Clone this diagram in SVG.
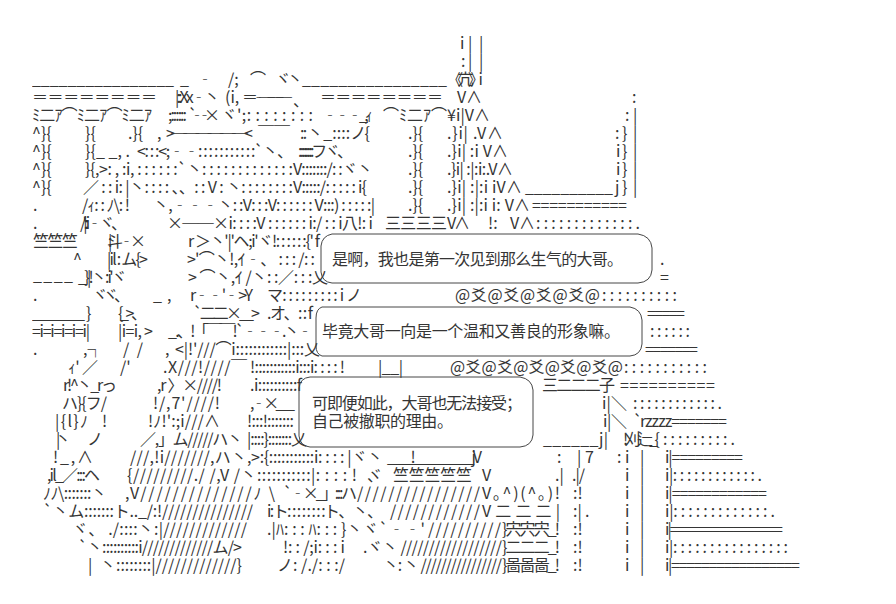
<svg xmlns="http://www.w3.org/2000/svg" width="896" height="604" viewBox="0 0 896 604">
<style>
text{font-family:"Noto Sans CJK JP","Noto Sans CJK SC","Noto Sans",sans-serif;font-size:16px;fill:#333}
.zh{font-family:"Noto Sans CJK SC","Noto Sans CJK JP",sans-serif;font-size:16px;fill:#333}
.bub{fill:none;stroke:#444;stroke-width:1}
.lay{opacity:0.99}
</style>
<rect width="896" height="604" fill="#fff"/>
<g id="art" class="lay">
<text x="460" y="49">i</text><text x="468" y="49">|</text><text x="479" y="49">|</text>
<text x="461" y="67">:</text><text x="468" y="67">|</text><text x="479" y="67">|</text>
<text x="32" y="85" textLength="142">________________</text><text x="180" y="85">_</text><text x="197" y="85">‐</text><text x="228" y="85">/;</text><text x="250" y="85">⌒</text><text x="275" y="85">ヾ</text><text x="287" y="85">丶</text><text x="302" y="85" textLength="145">________________</text><text x="447" y="85" textLength="36">《亢》i</text>
<text x="32" y="103" textLength="125">＝＝＝＝＝＝＝＝</text><text x="175" y="103" textLength="45">|::Xx‐丶</text><text x="225" y="103">(i,</text><text x="242" y="103" textLength="50">＝‐───</text><text x="293" y="106">、</text><text x="320" y="103" textLength="123">＝＝＝＝＝＝＝＝</text><text x="457" y="103" textLength="25">V∧</text><text x="632" y="103">:</text>
<text x="32" y="121" textLength="120">ﾐ二ｱ⌒ﾐ二ｱ⌒ﾐ二ｱ</text><text x="168" y="121" textLength="19">;::::::</text><text x="188" y="121" textLength="32">`‐‐×</text><text x="221" y="121">ヾ</text><text x="237" y="121" textLength="76">';: : : : : : : :</text><text x="322" y="121" textLength="51">‐‐‐ _,ｨ</text><text x="383" y="121" textLength="64">⌒ﾐ二ｱ⌒</text><text x="447" y="121" textLength="43">¥i|V∧</text><text x="625" y="121">:</text><text x="633" y="121">|</text>
<text x="32" y="139">^}{</text><text x="85" y="139">}{</text><text x="128" y="139">.}{</text><text x="157" y="139">,</text><text x="166" y="139" textLength="87">&gt;──────&lt;</text><text x="258" y="139" textLength="32">￣￣</text><text x="300" y="139" textLength="70">:: 丶 _ : : : : ノ{</text><text x="408" y="139">.}{</text><text x="447" y="139" textLength="56">.}i| .V∧</text><text x="615" y="139">:</text><text x="622" y="139">}</text><text x="633" y="139">|</text>
<text x="32" y="157">^}{</text><text x="85" y="157" textLength="45">}{_ _, .</text><text x="137" y="157" textLength="156">&lt;: : :&lt;;‐‐: : : : : : : : : : :`丶、</text><text x="298" y="157" textLength="55">: : : : : : : :フヾ、</text><text x="408" y="157">.}{</text><text x="447" y="157" textLength="61">.}i| :i V∧</text><text x="616" y="157">i</text><text x="622" y="157">}</text><text x="633" y="157">|</text>
<text x="32" y="175">^}{</text><text x="85" y="175" textLength="208">}{,&gt;: , :i, : : : : : :`丶: : : : : : : : : : : : :</text><text x="293" y="175" textLength="80">V:::::::/: :ヾ丶</text><text x="408" y="175">.}{</text><text x="447" y="175" textLength="66">.}i| :|:i:.V∧</text><text x="616" y="175">i</text><text x="622" y="175">}</text><text x="633" y="175">|</text>
<text x="32" y="193">^}{</text><text x="83" y="193" textLength="210">／ : : i: |丶: : : : 、、: : V : 丶: : : : : : : :</text><text x="293" y="193" textLength="74">V:::::/: : : : : i{</text><text x="408" y="193">.}{</text><text x="447" y="193" textLength="75">.}i| :|:i  iV∧</text><text x="525" y="193" textLength="88">__________</text><text x="615" y="193">j</text><text x="622" y="193">}</text><text x="633" y="193">|</text>
<text x="33" y="211">.</text><text x="82" y="211" textLength="48">/ｨ: : ﾉ\: !</text><text x="153" y="211" textLength="222">丶,‐‐‐丶: :V: : :V: : : : : : V:::) : : : : :|</text><text x="408" y="211">.}{</text><text x="447" y="211" textLength="83">.}i| :|:i  i: V∧</text><text x="532" y="211" textLength="95">===========</text>
<text x="33" y="229">.</text><text x="80" y="229" textLength="47">/' |: : :i ‐ヾ、</text><text x="167" y="229" textLength="206">×──×i: : : :V : : : : : : i:/ : : i八!: i</text><text x="385" y="229" textLength="62">三三三三</text><text x="447" y="229" textLength="23">V∧</text><text x="488" y="229">!:</text><text x="510" y="229" textLength="25">V∧</text><text x="536" y="229" textLength="104">: : : : : : : : : : : : : .</text>
<text x="33" y="247" textLength="45">竺竺竺</text><text x="107" y="247" textLength="38">|: 斗‐×</text><text x="188" y="247" textLength="132">r ＞丶'|'ヘ;i'ヾ!: : : : : :{' f</text>
<text x="73" y="265">^</text><text x="107" y="265" textLength="41">|il : ム{&gt;</text><text x="187" y="265">&gt;</text><text x="195" y="265" textLength="120">'⌒丶!,ｲ‐、 : : : /: :</text><text x="660" y="265">.</text>
<text x="33" y="281" textLength="40">_ _ _ _</text><text x="78" y="283" textLength="49">_}|!丶 : i'ヾ</text><text x="188" y="283" textLength="140">&gt; ⌒丶,ｲ /丶: :／: : :乂</text><text x="660" y="283">=</text>
<text x="33" y="301">.</text><text x="92" y="301" textLength="38">ヾ ヾ、</text><text x="153" y="301">_</text><text x="167" y="301">,</text><text x="190" y="301" textLength="63">r‐‐ '‐ &gt;Y</text><text x="267" y="301" textLength="95">マ: : : : : : : : : i ノ</text><text x="455" y="301" textLength="145">@爻@爻@爻@爻@</text><text x="602" y="301" textLength="75">: : : : : : : : : :</text>
<text x="32" y="319" textLength="53">__________</text><text x="86" y="319">}</text><text x="118" y="319" textLength="29">{_&gt;、</text><text x="193" y="319" textLength="67">`二二×__&gt;</text><text x="267" y="319" textLength="46">.オ、: : f</text><text x="647" y="319" textLength="38">=====</text>
<text x="32" y="337" textLength="58">=i=i=i=i=i|</text><text x="118" y="337" textLength="35">|i=i, &gt;</text><text x="168" y="337" textLength="145">_ .、!「￣￣!`‐‐‐.丶‐</text><text x="650" y="337" textLength="40">: : : : : :</text>
<text x="33" y="355">.</text><text x="83" y="355">,┐</text><text x="123" y="355" textLength="20">//</text><text x="165" y="355">,</text><text x="175" y="355" textLength="145">&lt;|!'///⌒i::::::::::::|:::乂</text><text x="645" y="355" textLength="53">=======</text>
<text x="68" y="373" textLength="30">ｨ' ／</text><text x="120" y="373">/'</text><text x="163" y="373" textLength="84">.X///!////￣</text><text x="250" y="373" textLength="95">!:::::::::::i:::i: : : : !</text><text x="378" y="373" textLength="25">|__|</text><text x="450" y="373" textLength="173">@爻@爻@爻@爻@爻@</text><text x="624" y="373" textLength="83">: : : : : : : : : : :</text>
<text x="63" y="391" textLength="54">r!^丶_rっ</text><text x="157" y="391" textLength="65">,r 〉×////!</text><text x="250" y="391" textLength="52">.i::::::::::f</text><text x="542" y="391" textLength="73">三二二二子</text><text x="620" y="391" textLength="95">==========</text>
<text x="62" y="409" textLength="45">ハ}{フ/</text><text x="153" y="409" textLength="67">!/,7'////!</text><text x="250" y="409" textLength="45">,‐×___</text><text x="602" y="409" textLength="25">i|＼</text><text x="633" y="409" textLength="89">: : : : : : : : : : : : .</text>
<text x="55" y="427" textLength="33">|{l}ﾉ</text><text x="102" y="427">!</text><text x="148" y="427" textLength="72">!ﾉ!':;i///∧</text><text x="247" y="427" textLength="47">!:::!:::::::</text><text x="603" y="427" textLength="24">i|＼</text><text x="633" y="427">`</text><text x="640" y="427" textLength="87">rzzzz=======</text>
<text x="55" y="445" textLength="15">|丶</text><text x="87" y="445">ノ</text><text x="140" y="445" textLength="103">／,」ム/////ハ丶</text><text x="247" y="445" textLength="60">|::::}:::::::乂</text><text x="543" y="445" textLength="65">______j|</text><text x="623" y="445" textLength="37">!刈辷_{</text><text x="663" y="445" textLength="72">: : : : : : : : : .</text>
<text x="53" y="463" textLength="40">! _ , ∧</text><text x="130" y="463" textLength="117">///,!i///////,ハ丶</text><text x="247" y="463" textLength="136">,&gt;:{:::::::::::i: : : : |ヾ丶</text><text x="387" y="463" textLength="95">____!__________jV</text><text x="557" y="463">:</text><text x="577" y="463">|</text><text x="585" y="463">7</text><text x="617" y="463">:</text><text x="625" y="463">i</text><text x="640" y="463">|</text><text x="665" y="463" textLength="78">i|=========</text>
<text x="47" y="481" textLength="53">,il_／:::ヘ</text><text x="127" y="481" textLength="230">{/////////./ /,V /丶:::::::::::|: : : : !</text><text x="367" y="481" textLength="16">ヾ、</text><text x="393" y="481" textLength="79">竺竺竺竺竺</text><text x="482" y="481">V</text><text x="555" y="481">.|</text><text x="572" y="481" textLength="13">.|/</text><text x="625" y="481">i</text><text x="640" y="481">|</text><text x="665" y="481" textLength="97">i|: : : : : : : : : : : : .</text>
<text x="43" y="499" textLength="64">ﾉﾉ\:::::::丶</text><text x="125" y="499" textLength="150">,V//////////////ﾉ \</text><text x="283" y="499" textLength="74">`‐×_」: : : ハ</text><text x="357" y="499" textLength="123">////////////////</text><text x="482" y="499" textLength="78">V｡^)(^｡)!</text><text x="573" y="499">:!</text><text x="625" y="499">i</text><text x="640" y="499">|</text><text x="665" y="499" textLength="102">i|============</text>
<text x="43" y="517" textLength="210">`丶ム:::::::ト.._/:!///////////////</text><text x="267" y="517" textLength="116">i:ト: : : : : : : :ト、丶、</text><text x="390" y="517" textLength="90">////////////</text><text x="482" y="517" textLength="78">V二二二|</text><text x="573" y="517">:|</text><text x="585" y="517">.</text><text x="625" y="517">i</text><text x="640" y="517">|</text><text x="665" y="517" textLength="110">i|: : : : : : : : : : : : : .</text>
<text x="72" y="535" textLength="175">ヾ、 ./::::丶:|/////////////</text><text x="267" y="535" textLength="158">.|ﾊ: : : ﾊ: : : }丶ヾ`‐‐'</text><text x="428" y="535" textLength="73">//////////</text><text x="502" y="535" textLength="58">}宍宍宍_!</text><text x="573" y="535">:!</text><text x="625" y="535">i</text><text x="640" y="535">|</text><text x="665" y="535" textLength="118">i|================</text>
<text x="78" y="553" textLength="164">`丶::::::::::i/////////////ム/&gt;</text><text x="283" y="553" textLength="62">!: : /;i: : : i</text><text x="363" y="553" textLength="139">.ヾ丶 //////////////////</text><text x="502" y="553" textLength="58">}二二二_!</text><text x="573" y="553">:!</text><text x="625" y="553">i</text><text x="640" y="553">|</text><text x="665" y="553" textLength="123">i|: : : : : : : : : : : : : : : :</text>
<text x="88" y="571">|</text><text x="100" y="571" textLength="142">丶::::::::|/////////////}</text><text x="277" y="571" textLength="68">ノ: /./: : :/</text><text x="383" y="571" textLength="119">丶: 丶 ////////////////</text><text x="502" y="571" textLength="58">}啚啚啚_!</text><text x="573" y="571">:!</text><text x="625" y="571">i</text><text x="640" y="571">|</text><text x="665" y="571" textLength="135">i|=================</text>
</g>
<g id="bubble1" class="lay">
<path class="bub" d="M332,234 H638 Q651,236 652,248 V270 Q651,282 638,283 H332 Q322,282 321,272 V246 Q322,236 332,234 Z"/>
<text class="zh" x="332" y="265" textLength="291">是啊，我也是第一次见到那么生气的大哥。</text>
</g>
<g id="bubble2" class="lay">
<path class="bub" d="M322,307 H630 Q641,309 642,320 V344 Q641,355 630,356 H322 Q316,354 316,346 V318 Q316,309 322,307 Z"/>
<text class="zh" x="322" y="337" textLength="298">毕竟大哥一向是一个温和又善良的形象嘛。</text>
</g>
<g id="bubble3" class="lay">
<path class="bub" d="M310,377 H520 Q532,379 533,390 V435 Q532,446 520,447 H310 Q300,446 299,436 V388 Q300,378 310,377 Z"/>
<text class="zh" x="312" y="409" textLength="210">可即便如此，大哥也无法接受；</text>
<text class="zh" x="312" y="427" textLength="141">自己被撤职的理由。</text>
</g>
<g id="connectors"></g>
</svg>
